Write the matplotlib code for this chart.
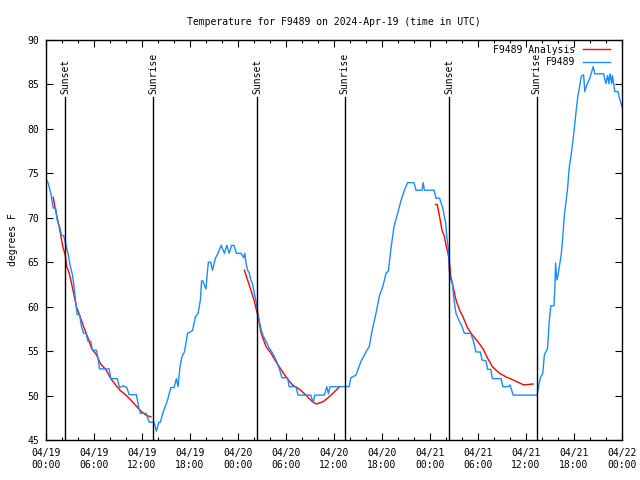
import numpy as np
import pandas as pd
import matplotlib
matplotlib.use('Agg')
import matplotlib.pyplot as plt
import matplotlib.dates as mdates

plt.rcParams['font.family'] = ['DejaVu Sans Mono']
plt.rcParams['font.size'] = 7

start = pd.Timestamp('2024-04-19 00:00')

# hours since 04/19 00:00 UTC and temperature in F
obs_hours = [0.0, 0.25, 0.6, 0.9, 1.2, 1.4, 1.7, 1.95, 2.2, 2.4, 2.55, 2.75, 3.0, 3.3, 3.5, 3.7,
             3.9, 4.2, 4.4, 4.7, 5.0, 5.25, 5.6, 5.8, 6.3, 6.5, 6.7, 7.9, 8.1, 8.9, 9.2, 9.7,
             10.1, 10.4, 11.3, 11.6, 11.8, 12.5, 12.9, 13.5, 13.8, 14.1, 14.3, 14.6, 15.2, 15.6,
             16.0, 16.3, 16.5, 16.75, 17.0, 17.3, 17.7, 18.3, 18.7, 19.0, 19.3, 19.45, 19.6,
             19.8, 20.0, 20.2, 20.3, 20.6, 20.8, 21.2, 21.5, 21.9, 22.3, 22.6, 22.9, 23.2, 23.5,
             23.8, 24.4, 24.7, 24.85, 25.0, 25.2, 25.4, 25.6, 25.8, 26.0, 26.25, 26.5, 26.7,
             26.9, 27.1, 27.5, 27.9, 28.3, 28.75, 29.2, 29.5, 30.2, 30.4, 31.25, 31.5, 33.1,
             33.4, 33.6, 34.8, 35.1, 35.3, 35.5, 37.9, 38.1, 38.75, 39.0, 39.4, 40.0, 40.4,
             40.8, 41.25, 41.7, 42.1, 42.5, 42.8, 43.1, 43.5, 43.95, 44.4, 44.8, 45.2, 46.0,
             46.25, 47.0, 47.15, 47.3, 48.5, 48.75, 49.2, 49.4, 49.6, 49.8, 49.95, 50.1, 50.3,
             50.4, 50.6, 50.8, 51.0, 51.25, 51.7, 51.9, 52.3, 53.1, 53.5, 53.75, 54.3, 54.5,
             55.0, 55.2, 55.6, 55.8, 56.9, 57.1, 57.8, 58.0, 58.4, 61.4, 61.6, 61.8, 62.1,
             62.3, 62.7, 62.9, 63.1, 63.5, 63.6, 63.7, 63.85, 64.0, 64.2, 64.4, 64.6, 64.8,
             65.0, 65.2, 65.4, 65.65, 65.9, 66.1, 66.3, 66.5, 66.7, 66.9, 67.2, 67.35, 67.55,
             67.97, 68.2, 68.4, 68.6, 69.7, 69.98, 70.2, 70.35, 70.5, 70.7, 70.8, 71.1, 71.5,
             71.7, 72.0]
obs_temp = [74.4, 73.95, 72.75, 71.1, 71.1, 69.75, 69.0, 68.0, 68.0, 67.3, 66.7, 66.0, 64.7,
            63.6, 62.3, 60.6, 59.1, 59.1, 57.9, 57.0, 57.0, 56.1, 56.1, 55.1, 55.1, 54.2, 53.0,
            53.0, 51.9, 51.9, 50.9, 51.1, 50.9, 50.1, 50.1, 48.6, 48.0, 48.0, 47.0, 47.0, 46.0,
            47.0, 47.0, 48.0, 49.5, 50.9, 50.9, 51.9, 51.0, 53.25, 54.4, 54.9, 57.0, 57.3, 58.9,
            59.2, 60.75, 62.9, 62.9, 62.4, 62.0, 64.2, 65.0, 65.0, 64.1, 65.5, 66.0, 66.9, 66.0,
            66.9, 66.0, 66.9, 66.9, 66.0, 66.0, 65.5, 66.0, 64.9, 64.1, 63.8, 63.0, 62.6, 61.7,
            60.6, 59.25, 58.2, 57.4, 56.8, 56.1, 55.35, 54.8, 54.0, 52.9, 52.0, 52.0, 51.0, 51.0,
            50.05, 50.05, 49.2, 50.05, 50.05, 51.0, 50.2, 51.0, 51.0, 52.0, 52.3, 52.95, 53.9,
            54.9, 55.5, 57.45, 59.25, 61.3, 62.25, 63.75, 64.0, 66.4, 69.0, 70.5, 72.0, 73.1,
            73.95, 73.95, 73.1, 73.1, 73.95, 73.1, 73.1, 72.2, 72.2, 71.6, 71.1, 70.1, 69.5,
            67.9, 66.4, 64.1, 63.0, 62.6, 60.75, 59.25, 58.3, 58.0, 57.0, 57.0, 55.9, 54.9,
            54.9, 54.0, 53.9, 52.95, 52.95, 51.9, 51.9, 51.0, 51.0, 51.2, 50.05, 50.05, 51.2,
            52.0, 52.5, 54.6, 55.3, 58.3, 60.1, 60.1, 62.1, 64.9, 63.0, 63.5, 64.7, 65.8, 67.9,
            70.3, 71.8, 73.3, 75.6, 77.1, 78.9, 80.6, 82.3, 83.8, 84.75, 85.9, 86.1, 84.2, 84.8,
            85.7, 86.4, 87.0, 86.2, 86.2, 85.1, 86.0, 85.1, 86.2, 85.1, 86.0, 84.2, 84.2, 83.4,
            82.5]

# analysis segments (nan separates the nights)
ana_hours = [0.9, 1.1, 1.5, 1.8, 2.1, 2.4, 2.6, 2.9, 3.2, 3.5, 3.8, 4.25, 4.7, 5.2, 5.7, 6.3,
             6.8, 7.5, 8.1, 8.7, 9.3, 10.0, 10.6, 11.2, 11.8, 12.5, 13.1, 13.2,
             24.8, 25.2, 25.6, 26.0, 26.5, 26.9, 27.5, 28.1, 28.75, 29.4, 30.0, 30.8, 31.7,
             32.5, 33.3, 33.8, 34.6, 35.2, 35.8, 36.7, 36.8,
             48.7, 48.9, 49.2, 49.5, 49.8, 50.0, 50.2, 50.4, 50.6, 50.8, 51.25, 51.7, 52.1,
             52.7, 53.3, 53.95, 54.6, 55.2, 55.8, 56.7, 57.5, 58.3, 58.75, 59.7, 60.9]
ana_temp = [72.3, 71.25, 69.6, 68.25, 66.75, 65.8, 64.5, 63.75, 62.6, 61.3, 60.0, 58.9, 57.75,
            56.6, 55.3, 54.6, 53.6, 52.9, 51.9, 51.2, 50.55, 50.05, 49.5, 48.9, 48.3, 47.8,
            47.6, np.nan,
            64.1, 63.0, 61.9, 60.75, 58.9, 57.0, 55.5, 54.8, 53.8, 52.9, 52.1, 51.2, 50.7,
            50.05, 49.3, 49.05, 49.3, 49.7, 50.2, 51.0, np.nan,
            71.5, 71.5, 70.1, 68.6, 67.9, 66.9, 66.2, 65.25, 63.4, 62.6, 60.75, 59.6, 58.9,
            57.6, 56.8, 56.1, 55.3, 54.2, 53.25, 52.5, 52.1, 51.8, 51.6, 51.2, 51.3]

sun_hours = [2.42, 13.37, 26.42, 37.35, 50.42, 61.33]
sun_labels = ['Sunset', 'Sunrise', 'Sunset', 'Sunrise', 'Sunset', 'Sunrise']

obs_t = start + pd.to_timedelta(obs_hours, unit='h')
ana_t = start + pd.to_timedelta(ana_hours, unit='h')
sun_t = start + pd.to_timedelta(sun_hours, unit='h')

fig = plt.figure(figsize=(6.4, 4.8), dpi=100)
ax = fig.add_axes([46/640, 40/480, 576/640, 400/480])

ax.plot(ana_t, ana_temp, color='#ff0000', lw=1, label='F9489 Analysis')
ax.plot(obs_t, obs_temp, color='#1a8cff', lw=1, label='F9489')

for t, lab in zip(sun_t, sun_labels):
    ax.plot([t, t], [45, 83.6], color='black', lw=1)
    ax.text(t, 83.9, lab, rotation=90, ha='center', va='bottom', fontsize=7)

ax.set_xlim(start, start + pd.Timedelta(hours=72))
ax.set_ylim(45, 90)
ax.set_yticks(range(45, 91, 5))
ax.xaxis.set_major_locator(mdates.HourLocator(byhour=[0, 6, 12, 18]))
ax.xaxis.set_minor_locator(mdates.HourLocator(byhour=range(0, 24, 2)))
ax.xaxis.set_major_formatter(mdates.DateFormatter('%m/%d\n%H:%M'))
ax.tick_params(which='both', direction='in', top=True, right=True, labelsize=7)
ax.tick_params(which='major', length=5, width=0.8, pad=5)
ax.tick_params(which='minor', length=2.5, width=0.8)
ax.tick_params(axis='x', which='major', pad=6)
for s in ax.spines.values():
    s.set_linewidth(1)

ax.set_ylabel('degrees F', fontsize=7, labelpad=7)
ax.set_title('Temperature for F9489 on 2024-Apr-19 (time in UTC)', fontsize=7, pad=11)

ax.legend(loc='upper right', bbox_to_anchor=(1 - 7/576, 1), frameon=False,
          markerfirst=False, handlelength=2.8, labelspacing=0.25, borderaxespad=0.1,
          handletextpad=0.8, fontsize=7)

fig.savefig('out.png', dpi=100)
